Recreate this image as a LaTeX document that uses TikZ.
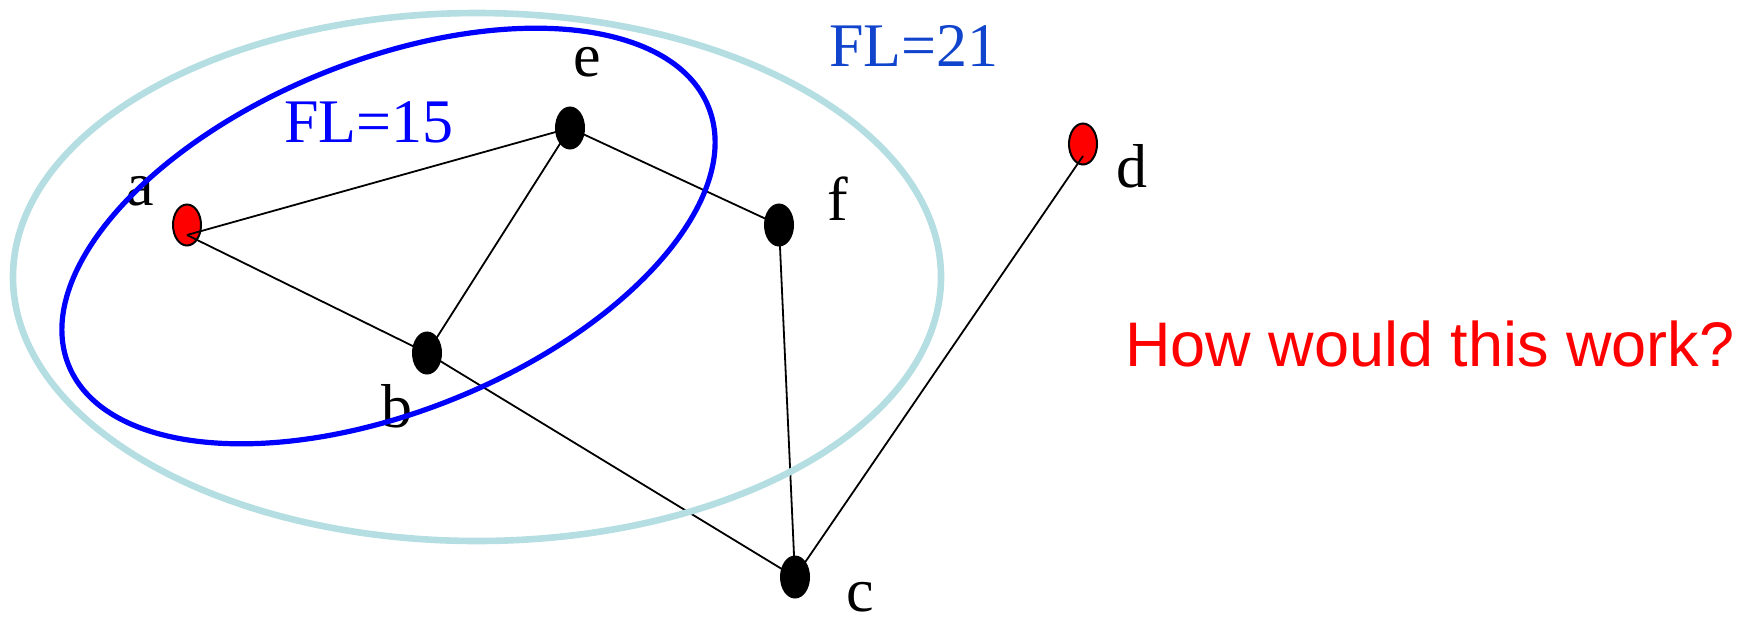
\documentclass[tikz,border=0pt]{standalone}
\usepackage{fontspec}
\setmainfont{Liberation Serif}
\newfontfamily\arialfont{Liberation Sans}
\usetikzlibrary{shapes.geometric}
\definecolor{pale}{RGB}{180,222,226}
\definecolor{flblue}{RGB}{17,68,204}
\tikzset{
  vtx/.style={ellipse, draw=black, line width=1pt, minimum width=14pt, minimum height=20.5pt, inner sep=0pt},
  blk/.style={vtx, fill=black},
  rd/.style={vtx, fill=red},
  edge/.style={draw=black, line width=0.9pt},
  lbl/.style={anchor=base, inner sep=0pt, font=\fontsize{31}{36}\selectfont},
}
\begin{document}
\begin{tikzpicture}[x=0.5pt,y=-0.5pt]
\useasboundingbox (0,0) rectangle (1748,622);
% vertices
\node[rd]  (a) at (187,225) {};
\node[blk] (e) at (570,128) {};
\node[blk] (b) at (427,353) {};
\node[blk] (f) at (779,225) {};
\node[rd]  (d) at (1083,144) {};
\node[blk] (c) at (795,577) {};
% edges
\draw[edge] ([yshift=-5pt]a.center) -- (e.center);
\draw[edge] ([yshift=-5pt]a.center) -- (b.center);
\draw[edge] (e.center) -- (b.center);
\draw[edge] (e.center) -- (f.center);
\draw[edge] (b.center) -- (c.center);
\draw[edge] (f.center) -- (c.center);
\draw[edge] ([yshift=-6pt]d.center) -- (c.center);
% labels
\node[lbl] (la) at (140,205) {a};
\node[lbl] (le) at (587,76) {e};
\node[lbl] (lf) at (838,220) {f};
\node[lbl] (ld) at (1132,187) {d};
\node[lbl] (lb) at (397,427) {b};
\node[lbl] (lc) at (860,611) {c};
\node[lbl, text=blue] (fl15) at (369,142) {FL=15};
\node[lbl, text=flblue] (fl21) at (914,66) {FL=21};
\node[anchor=base, inner sep=0pt, text=red, font=\arialfont\fontsize{31.5}{38}\selectfont] (q) at (1430,366) {How would this work?};
% ellipses
\draw[pale, line width=3.3pt] (477,277) ellipse [x radius=464, y radius=264];
\draw[blue, line width=2.6pt, rotate around={22:(388.5,236)}] (388.5,236) ellipse [x radius=345, y radius=175.5];
\end{tikzpicture}
\end{document}
